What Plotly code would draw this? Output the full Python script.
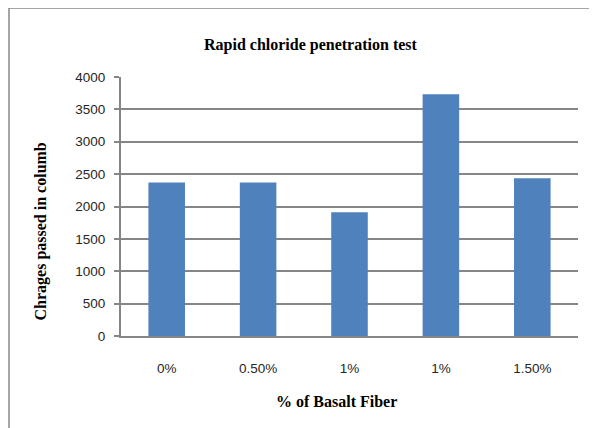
import plotly.graph_objects as go

categories = ["0%", "0.50%", "1%", "1%", "1.50%"]
values = [2370, 2370, 1910, 3735, 2435]
y_ticks = [0, 500, 1000, 1500, 2000, 2500, 3000, 3500, 4000]

title_text = "Rapid chloride penetration test"
x_title = "% of Basalt Fiber"
y_title = "Chrages passed in columb"

positions = list(range(len(categories)))

fig = go.Figure(go.Bar(x=positions, y=values, marker_color="#4F81BD",
                       marker_line_width=0, width=0.4))

grid = "#868686"
serif = dict(family="Liberation Serif", size=16, color="black")
sans = dict(family="Liberation Sans", size=13.5, color="#262626")

fig.update_layout(
    width=597, height=428,
    margin=dict(l=113, r=27, t=69, b=100),
    paper_bgcolor="white", plot_bgcolor="white",
    showlegend=False,
    xaxis=dict(range=[-0.5, 4.5], tickmode="array", tickvals=positions, ticktext=categories,
               showgrid=False, showline=True, linecolor=grid, linewidth=2,
               ticks="", ticklabelstandoff=19, tickfont=sans),
    yaxis=dict(range=[0, 4000], tickmode="array", tickvals=y_ticks,
               showgrid=True, gridcolor=grid, gridwidth=2,
               showline=True, linecolor=grid, linewidth=2,
               ticks="outside", ticklen=5, tickcolor=grid, tickwidth=2,
               ticklabelstandoff=6, tickfont=sans),
    annotations=[
        dict(text="<b>%s</b>" % title_text, xref="paper", yref="paper",
             x=0.4158, y=1.1236, xanchor="center", yanchor="middle",
             showarrow=False, font=serif),
        dict(text="<b>%s</b>" % x_title, xref="paper", yref="paper",
             x=0.4716, y=-0.2548, xanchor="center", yanchor="middle",
             showarrow=False, font=serif),
        dict(text="<b>%s</b>" % y_title, xref="paper", yref="paper",
             x=-0.1729, y=0.4035, xanchor="center", yanchor="middle",
             textangle=-90, showarrow=False, font=serif),
    ],
    shapes=[
        dict(type="line", xref="paper", yref="paper", x0=-0.2451, x1=1.2,
             y0=1.2664, y1=1.2664, line=dict(color="#888888", width=1.5)),
        dict(type="line", xref="paper", yref="paper", x0=-0.2451, x1=-0.2451,
             y0=1.2664, y1=-0.5, line=dict(color="#888888", width=1.5)),
    ],
)

fig.write_html("out.html")
